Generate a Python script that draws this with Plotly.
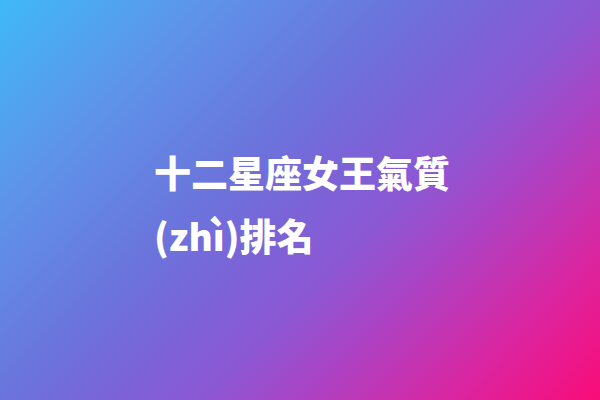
import base64
import plotly.graph_objects as go

# Text content
title_lines = ["十二星座女王氣質", "(zhì)排名"]
line_y_px = [172, 235]          # vertical centres of lines (px from top)
text_left_px = 152

# Gradient background (style)
W, H = 600, 400
stops = [
    (0.00, "#3fb9f8"),
    (0.20, "#5d95ea"),
    (0.40, "#6b74dc"),
    (0.50, "#7a64d8"),
    (0.60, "#8c58d4"),
    (0.70, "#ab43c4"),
    (0.85, "#db25a0"),
    (1.00, "#fa0c78"),
]
stop_xml = "".join(f'<stop offset="{o}" stop-color="{c}"/>' for o, c in stops)
svg = (
    f'<svg xmlns="http://www.w3.org/2000/svg" width="{W}" height="{H}" viewBox="0 0 {W} {H}" preserveAspectRatio="none">'
    f'<defs><linearGradient id="g" gradientUnits="userSpaceOnUse" x1="0" y1="0" x2="500" y2="500">{stop_xml}</linearGradient></defs>'
    f'<rect x="0" y="0" width="{W}" height="{H}" fill="url(#g)"/></svg>'
)
src = "data:image/svg+xml;base64," + base64.b64encode(svg.encode("utf-8")).decode("ascii")

fig = go.Figure()
fig.add_layout_image(dict(source=src, xref="paper", yref="paper", x=0, y=1,
                          sizex=1, sizey=1, sizing="stretch", layer="below",
                          xanchor="left", yanchor="top"))

for txt, ypx in zip(title_lines, line_y_px):
    fig.add_annotation(text=txt, xref="paper", yref="paper",
                       x=text_left_px / W, y=1 - ypx / H,
                       xanchor="left", yanchor="middle", showarrow=False,
                       font=dict(family="Noto Sans CJK TC, Noto Sans CJK SC, sans-serif",
                                 size=37, color="white", weight=900))

fig.update_layout(width=W, height=H, margin=dict(l=0, r=0, t=0, b=0),
                  paper_bgcolor="#7a64d8", plot_bgcolor="rgba(0,0,0,0)",
                  xaxis=dict(visible=False, range=[0, 1]),
                  yaxis=dict(visible=False, range=[0, 1]),
                  showlegend=False)

fig.write_html("out.html", config={"displayModeBar": False},
               post_script="document.body.style.margin='0';document.body.style.overflow='hidden';")
